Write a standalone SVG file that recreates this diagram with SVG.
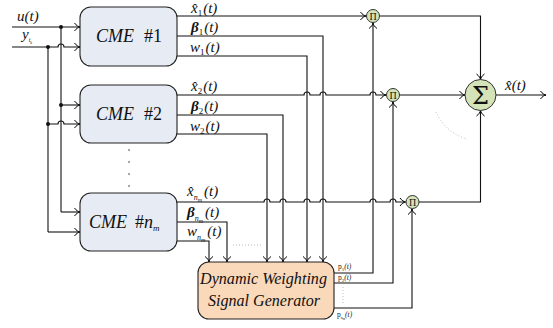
<svg xmlns="http://www.w3.org/2000/svg" width="553" height="328" viewBox="0 0 553 328">
<defs>
<marker id="arr" markerUnits="userSpaceOnUse" markerWidth="12" markerHeight="12" viewBox="-7 -6 8 12" refX="0" refY="0" orient="auto">
<path d="M-5.5,-4 C-3.5,-1.2 -1.5,-0.4 0,0 C-1.5,0.4 -3.5,1.2 -5.5,4" fill="none" stroke="#000" stroke-width="1"/>
</marker>
</defs>
<style>
.w{fill:none;stroke:#111;stroke-width:1.1}
.a{marker-end:url(#arr)}
.t{font-family:"Liberation Serif","DejaVu Serif",serif;font-style:italic;font-size:15px;fill:#111}
.big{font-size:18px}
.gt{font-size:16px}
.s{font-size:9px}
.ss{font-size:8px}
.sss{font-size:6px}
.u{font-style:normal}
.b{font-weight:bold}
.cme{fill:#e6ebf4;stroke:#222;stroke-width:1.1}
.gen{fill:#fad8ba;stroke:#222;stroke-width:1.1}
.op{fill:#d5e4b8;stroke:#333;stroke-width:1}
.dot{fill:#111}
.dt{fill:none;stroke:#bbb;stroke-width:1;stroke-dasharray:1 2}
.pl{font-family:"Liberation Serif","DejaVu Serif",serif;font-size:7.5px;fill:#222}
</style>

<g id="connectors">
<path class="w a" d="M12,27 H80"/>
<path class="w a" d="M12,47 H58 A3,3 0 0 1 64,47 H80"/>
<path class="w" d="M61,27 V212"/>
<path class="w a" d="M61,105 H80"/>
<path class="w a" d="M61,212 H80"/>
<path class="w" d="M48,47 V232"/>
<path class="w a" d="M48,124 H58 A3,3 0 0 1 64,124 H80"/>
<path class="w a" d="M48,232 H80"/>
<path class="w a" d="M177,16 H366"/>
<path class="w a" d="M177,36 H323 V262"/>
<path class="w a" d="M177,56 H307 V262"/>
<path class="w a" d="M177,95 H304 A3,3 0 0 1 310,95 H320 A3,3 0 0 1 326,95 H370 A3,3 0 0 1 376,95 H386"/>
<path class="w a" d="M177,115 H283 V262"/>
<path class="w a" d="M177,134 H267 V262"/>
<path class="w a" d="M177,202 H264 A3,3 0 0 1 270,202 H280 A3,3 0 0 1 286,202 H304 A3,3 0 0 1 310,202 H320 A3,3 0 0 1 326,202 H370 A3,3 0 0 1 376,202 H390 A3,3 0 0 1 396,202 H405.5"/>
<path class="w a" d="M177,222 H227 V262"/>
<path class="w a" d="M177,241 H209 V262"/>
<path class="w a" d="M334,273 H373 V23"/>
<path class="w a" d="M334,283 H393 V102"/>
<path class="w a" d="M334,308 H412 V209"/>
<path class="w a" d="M379.5,16 H480.5 V79.5"/>
<path class="w a" d="M399.5,95 H465"/>
<path class="w a" d="M419,202 H480.5 V110.5"/>
<path class="w a" d="M496,95 H546"/>
<circle class="dot" cx="61" cy="27" r="2"/>
<circle class="dot" cx="48" cy="47" r="2"/>
<circle class="dot" cx="61" cy="105" r="2"/>
<circle class="dot" cx="48" cy="124" r="2"/>
<path class="dt" d="M233,245 H261"/>
<path class="dt" d="M343,287 V304"/>
<path class="dt" d="M436,112 A48,48 0 0 0 467,139"/>
<g fill="#333">
<circle cx="129" cy="150" r="0.8"/><circle cx="129" cy="162" r="0.8"/><circle cx="129" cy="174" r="0.8"/><circle cx="129" cy="186" r="0.8"/>
</g>
</g>

<g id="labels">
<text class="t" x="17" y="21">u(t)</text>
<text class="t" x="22" y="39">y<tspan class="sss" dy="3">t</tspan><tspan font-size="4" dy="1.5">k</tspan></text>
<text class="t" x="191" y="13">x̂<tspan class="s u" dy="3">1</tspan><tspan dy="-3" dx="1">(t)</tspan></text>
<text class="t" x="191" y="32"><tspan class="b">β</tspan><tspan class="s u" dy="3">1</tspan><tspan dy="-3" dx="1">(t)</tspan></text>
<text class="t" x="190" y="52">w<tspan class="s u" dy="3">1</tspan><tspan dy="-3" dx="1">(t)</tspan></text>
<text class="t" x="191" y="91">x̂<tspan class="s u" dy="3">2</tspan><tspan dy="-3" dx="1">(t)</tspan></text>
<text class="t" x="191" y="111"><tspan class="b">β</tspan><tspan class="s u" dy="3">2</tspan><tspan dy="-3" dx="1">(t)</tspan></text>
<text class="t" x="190" y="131">w<tspan class="s u" dy="3">2</tspan><tspan dy="-3" dx="1">(t)</tspan></text>
<text class="t" x="187" y="196">x̂<tspan class="ss" dy="4">n</tspan><tspan class="sss" dy="1.5">m</tspan><tspan dy="-5.5" dx="2">(t)</tspan></text>
<text class="t" x="187" y="217"><tspan class="b">β</tspan><tspan class="ss" dy="4">n</tspan><tspan class="sss" dy="1.5">m</tspan><tspan dy="-5.5" dx="2">(t)</tspan></text>
<text class="t" x="187" y="236">w<tspan class="ss" dy="4">n</tspan><tspan class="sss" dy="1.5">m</tspan><tspan dy="-5.5" dx="2">(t)</tspan></text>
<text class="t" x="505" y="90">x̂(t)</text>
<text class="pl" x="338" y="269">p<tspan font-size="5" dy="1.5">1</tspan><tspan dy="-1.5" font-style="italic">(t)</tspan></text>
<text class="pl" x="338" y="280">p<tspan font-size="5" dy="1.5">2</tspan><tspan dy="-1.5" font-style="italic">(t)</tspan></text>
<text class="pl" x="337" y="317">p<tspan font-size="4" dy="1.5">n</tspan><tspan font-size="3" dy="1">m</tspan><tspan dy="-2.5" font-style="italic">(t)</tspan></text>
</g>

<g id="cme1">
<rect class="cme" x="80" y="7" width="97" height="59" rx="11"/>
<text class="t big" x="96" y="42">CME<tspan class="u" dx="10">#1</tspan></text>
</g>
<g id="cme2">
<rect class="cme" x="80" y="85" width="97" height="58" rx="11"/>
<text class="t big" x="96" y="120">CME<tspan class="u" dx="10">#2</tspan></text>
</g>
<g id="cmen">
<rect class="cme" x="80" y="193" width="97" height="58" rx="11"/>
<text class="t big" x="89" y="228">CME<tspan class="u" dx="8">#</tspan>n<tspan font-size="9" dy="3">m</tspan></text>
</g>
<g id="generator">
<rect class="gen" x="198" y="262" width="136" height="57" rx="11"/>
<text class="t gt" x="200" y="284" textLength="127" lengthAdjust="spacingAndGlyphs">Dynamic Weighting</text>
<text class="t gt" x="208" y="306" textLength="112" lengthAdjust="spacingAndGlyphs">Signal Generator</text>
</g>
<g id="prod1">
<circle class="op" cx="373" cy="16" r="6.5"/>
<text x="373" y="19.5" text-anchor="middle" font-family="Liberation Serif,serif" font-size="10" fill="#111">Π</text>
</g>
<g id="prod2">
<circle class="op" cx="393" cy="95" r="6.5"/>
<text x="393" y="98.5" text-anchor="middle" font-family="Liberation Serif,serif" font-size="10" fill="#111">Π</text>
</g>
<g id="prodn">
<circle class="op" cx="412.5" cy="202" r="6.5"/>
<text x="412.5" y="205.5" text-anchor="middle" font-family="Liberation Serif,serif" font-size="10" fill="#111">Π</text>
</g>
<g id="sum">
<circle class="op" cx="480.5" cy="95" r="15.5"/>
<text x="480.5" y="104" text-anchor="middle" font-family="DejaVu Serif,serif" font-size="24" fill="#111">Σ</text>
</g>
</svg>
